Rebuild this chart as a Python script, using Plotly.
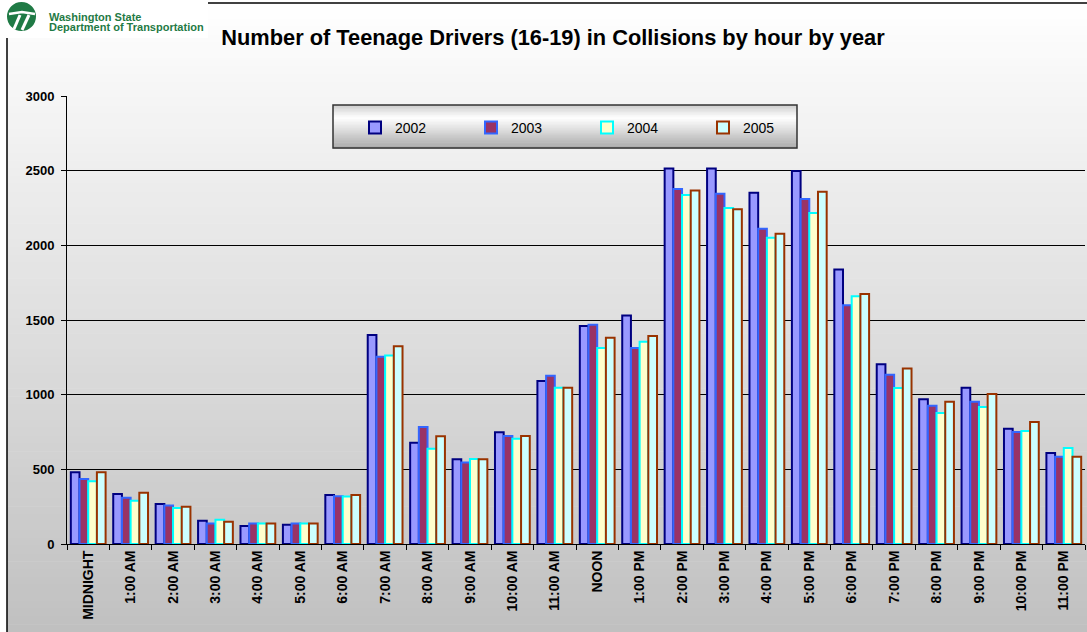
import plotly.graph_objects as go

hours = ["MIDNIGHT", "1:00 AM", "2:00 AM", "3:00 AM", "4:00 AM", "5:00 AM", "6:00 AM",
         "7:00 AM", "8:00 AM", "9:00 AM", "10:00 AM", "11:00 AM", "NOON", "1:00 PM",
         "2:00 PM", "3:00 PM", "4:00 PM", "5:00 PM", "6:00 PM", "7:00 PM", "8:00 PM",
         "9:00 PM", "10:00 PM", "11:00 PM"]

y2002 = [480, 335, 268, 156, 121, 129, 328, 1400, 678, 567, 748, 1091, 1460, 1530,
         2515, 2515, 2352, 2498, 1839, 1203, 969, 1047, 772, 609]
y2003 = [435, 310, 257, 138, 138, 138, 319, 1254, 783, 545, 723, 1127, 1469, 1312,
         2377, 2346, 2111, 2310, 1598, 1134, 926, 953, 750, 585]
y2004 = [420, 290, 241, 163, 138, 138, 318, 1263, 638, 569, 705, 1047, 1312, 1355,
         2337, 2250, 2051, 2216, 1659, 1045, 877, 917, 757, 643]
y2005 = [480, 344, 250, 149, 138, 138, 328, 1324, 721, 567, 723, 1047, 1381, 1393,
         2368, 2241, 2078, 2359, 1674, 1176, 953, 1004, 817, 585]

series = [
    ("2002", y2002, "#9999FF", "#000080"),
    ("2003", y2003, "#993366", "#3366FF"),
    ("2004", y2004, "#FFFFCC", "#00FFFF"),
    ("2005", y2005, "#CCFFFF", "#993300"),
]

W, H = 1087, 632
L, R, T, B = 67, 2, 96, 88
PW = W - L - R
PH = H - T - B

def px(x):
    return (x - L) / PW

def py(y):
    return (H - B - y) / PH

FONT = "Liberation Sans, Arial, sans-serif"

fig = go.Figure()
for name, vals, fill, line in series:
    fig.add_trace(go.Bar(
        x=hours, y=vals, name=name,
        marker=dict(color=fill, line=dict(color=line, width=2)),
    ))

shapes = []
# background gradient (chart area box)
N = 80
x0p, y0p = 7, 3
for i in range(N):
    ya = y0p + (H - y0p) * i / N
    yb = y0p + (H - y0p) * (i + 1) / N
    t = (ya + yb) / 2 / H
    c = int(round(255 - (255 - 192) * t))
    shapes.append(dict(type="rect", xref="paper", yref="paper",
                       x0=px(x0p), x1=px(W), y0=py(ya), y1=py(yb) if i == N - 1 else py(yb + 0.6),
                       fillcolor=f"rgb({c},{c},{c})", line=dict(width=0), layer="below"))
# frame lines
shapes.append(dict(type="line", xref="paper", yref="paper", x0=px(x0p), x1=px(x0p),
                   y0=py(3), y1=py(H), line=dict(color="black", width=1.5), layer="below"))
shapes.append(dict(type="line", xref="paper", yref="paper", x0=px(x0p), x1=px(W),
                   y0=py(3), y1=py(3), line=dict(color="black", width=1.5), layer="below"))
# white logo area
shapes.append(dict(type="rect", xref="paper", yref="paper", x0=px(0), x1=px(208),
                   y0=py(0), y1=py(38), fillcolor="white", line=dict(width=0), layer="below"))
# logo circle
shapes.append(dict(type="circle", xref="paper", yref="paper", x0=px(7), x1=px(36),
                   y0=py(2), y1=py(31), fillcolor="#1F7A45", line=dict(width=0), layer="below"))

def path(points):
    return "M " + " L ".join(f"{px(a)},{py(b)}" for a, b in points)

shapes.append(dict(type="path", xref="paper", yref="paper",
                   path=path([(9, 14), (22, 12), (35, 14)]),
                   line=dict(color="white", width=2.5), layer="below"))
shapes.append(dict(type="path", xref="paper", yref="paper",
                   path=path([(20, 15), (14, 29)]),
                   line=dict(color="white", width=3), layer="below"))
shapes.append(dict(type="path", xref="paper", yref="paper",
                   path=path([(29, 15), (22, 30)]),
                   line=dict(color="white", width=3), layer="below"))

# legend box gradient
lx0, lx1, ly0, ly1 = 333, 797, 105, 148
M = 30
for i in range(M):
    ya = ly0 + (ly1 - ly0) * i / M
    yb = ly0 + (ly1 - ly0) * (i + 1) / M
    t = (i + 0.5) / M
    if t < 0.3:
        c = 205 + (255 - 205) * t / 0.3
    else:
        c = 255 - (255 - 170) * (t - 0.3) / 0.7
    c = int(round(c))
    shapes.append(dict(type="rect", xref="paper", yref="paper",
                       x0=px(lx0), x1=px(lx1), y0=py(ya), y1=py(yb + 0.5),
                       fillcolor=f"rgb({c},{c},{c})", line=dict(width=0), layer="above"))
shapes.append(dict(type="rect", xref="paper", yref="paper",
                   x0=px(lx0), x1=px(lx1), y0=py(ly0), y1=py(ly1),
                   fillcolor="rgba(0,0,0,0)", line=dict(color="#333333", width=1.5), layer="above"))

annotations = [
    dict(text="<b>Washington State</b>", x=px(47), y=py(17), xref="paper", yref="paper",
         xanchor="left", yanchor="middle", showarrow=False,
         font=dict(family=FONT, size=11, color="#1F7A45")),
    dict(text="<b>Department of Transportation</b>", x=px(47), y=py(27), xref="paper", yref="paper",
         xanchor="left", yanchor="middle", showarrow=False,
         font=dict(family=FONT, size=11, color="#1F7A45")),
]

fig.update_layout(
    width=W, height=H,
    margin=dict(l=L, r=R, t=T, b=B, autoexpand=False),
    paper_bgcolor="white",
    plot_bgcolor="rgba(0,0,0,0)",
    barmode="group", bargap=0.18, bargroupgap=0,
    title=dict(text="<b>Number of Teenage Drivers (16-19) in Collisions by hour by year</b>",
               x=px(553), xanchor="center", xref="paper",
               y=1 - 37 / H, yanchor="middle", yref="container",
               font=dict(family=FONT, size=21.8, color="black")),
    font=dict(family=FONT, color="black"),
    showlegend=True,
    legend=dict(orientation="h", x=px(355), y=py(112), xanchor="left", yanchor="top",
                bgcolor="rgba(0,0,0,0)", borderwidth=0,
                entrywidth=71, entrywidthmode="pixels",
                font=dict(family=FONT, size=14, color="black"),
                traceorder="normal"),
    shapes=shapes,
    annotations=annotations,
    xaxis=dict(
        type="category", showline=True, linecolor="black", linewidth=1,
        ticks="outside", tickson="boundaries", ticklen=5, tickcolor="black",
        tickangle=-90, tickfont=dict(family=FONT, size=14, color="black", weight="bold"),
        showgrid=False, automargin=False,
    ),
    yaxis=dict(
        range=[0, 3000], dtick=500, showline=True, linecolor="black", linewidth=1,
        ticks="outside", ticklen=5, tickcolor="black", ticklabelstandoff=4,
        showgrid=True, gridcolor="black", gridwidth=1, zeroline=False,
        tickfont=dict(family=FONT, size=13, color="black", weight="bold"),
        automargin=False,
    ),
)

fig.write_html("out.html", config={"displayModeBar": False},
               post_script="document.body.style.margin='0px';")
